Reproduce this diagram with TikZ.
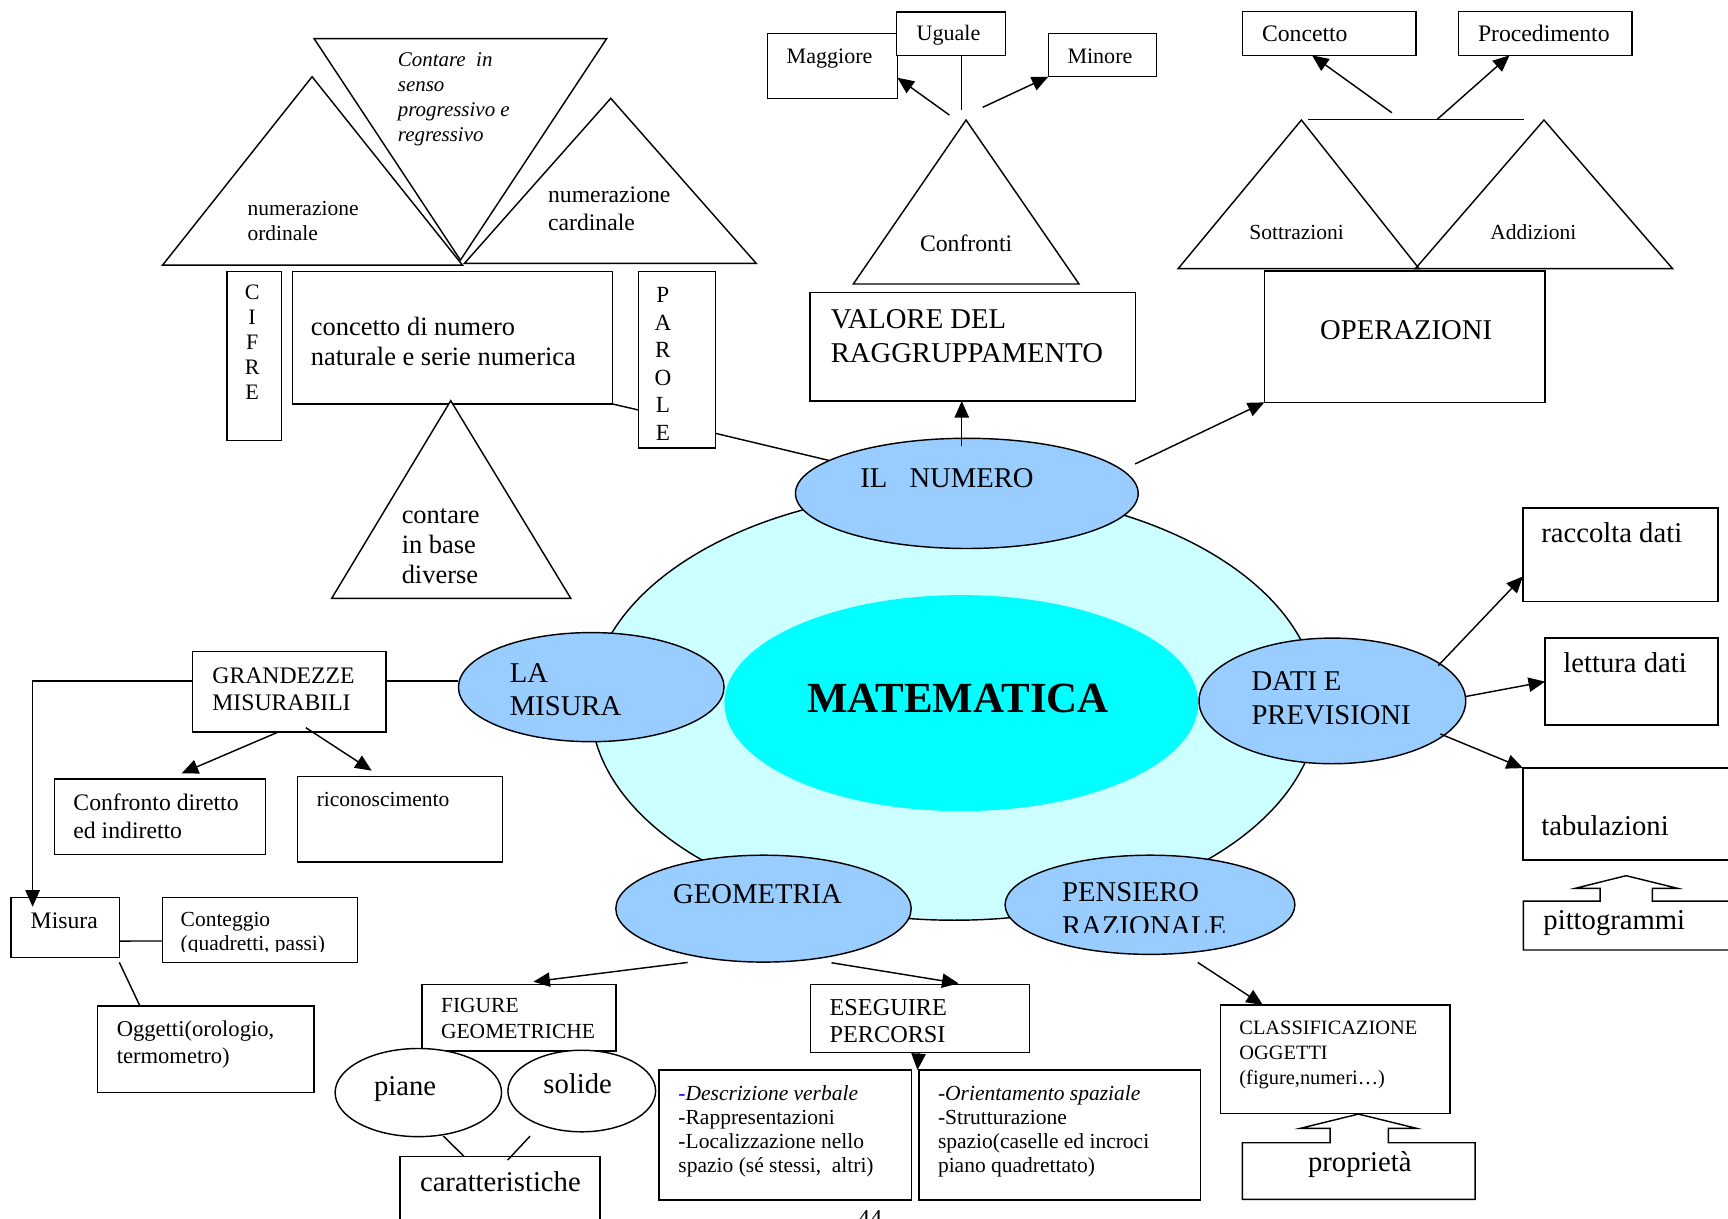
\documentclass[tikz,border=0pt]{standalone}
\usepackage{fontspec}
\setmainfont{Liberation Serif}
\usetikzlibrary{shapes.geometric,arrows.meta,fit,calc}
\definecolor{ringfill}{HTML}{CCFFFF}
\definecolor{corefill}{HTML}{00FFFF}
\definecolor{topicfill}{HTML}{99CCFF}
\newcommand\fsz[2]{\fontsize{#1}{#2}\selectfont}
% stacked lines whose baseline is that of the first line
\newcommand\rows[1]{\begin{tabular}[t]{@{}l@{}}#1\end{tabular}}
\newcommand\crows[1]{\begin{tabular}[t]{@{}c@{}}#1\end{tabular}}

\begin{document}
\begin{tikzpicture}[x=1pt, y=-1pt, line width=1.3pt,
  box/.style={draw, fill=white, inner sep=0pt, outer sep=0pt},
  topic/.style={draw, ellipse, fill=topicfill, inner sep=0pt, outer sep=0pt},
  oval/.style={draw, ellipse, fill=white, inner sep=0pt, outer sep=0pt},
  lbl/.style={inner sep=0pt, anchor=base west},
  letters/.style={inner sep=0pt, anchor=base},
  arr/.style={-{Triangle[length=15pt,width=13pt]}},
  tri/.style={draw, line join=miter}
]
\clip (0,0) rectangle (1568,1106);
\fill[white] (0,0) rectangle (1568,1106);

% ---------- central subject ----------
\node[draw, ellipse, fill=ringfill, minimum width=660pt, minimum height=390pt, inner sep=0pt] (ring) at (866,640) {};
\node[ellipse, fill=corefill, minimum width=430pt, minimum height=196pt, inner sep=0pt] (core) at (872.3,638) {};
\node[lbl, font=\fsz{39}{44}\bfseries] (title) at (731.8,646.7) {MATEMATICA};

% ---------- topic ellipses ----------
\node[topic, minimum width=311pt, minimum height=100pt] (num) at (877.3,447.7) {};
\node[topic, minimum width=241pt, minimum height=99pt] (mis) at (536.5,623.5) {};
\node[topic, minimum width=242pt, minimum height=114pt] (dati) at (1209,636) {};
\node[topic, minimum width=268pt, minimum height=97pt] (geo) at (692.8,824.5) {};
\node[topic, minimum width=263pt, minimum height=90pt] (pens) at (1043.5,821) {};

\node[lbl, font=\fsz{26}{30}] (numT) at (780.1,442.2) {IL\hspace{20pt}NUMERO};
\node[lbl, font=\fsz{26}{30}] (misT) at (462,619) {\rows{LA\\MISURA}};
\node[lbl, font=\fsz{26}{30}] (datiT) at (1135,627) {\rows{DATI E\\PREVISIONI}};
\node[lbl, font=\fsz{26}{30}] (geoT) at (610.2,819.7) {GEOMETRIA};
\begin{scope}
  \clip (900,770) rectangle (1180,846.5);
  \node[lbl, font=\fsz{26}{31}] (pensT) at (963.2,817.6) {\rows{PENSIERO\\RAZIONALE}};
\end{scope}

% ---------- IL NUMERO: number concept ----------
\draw[tri] (285,35) -- (550.5,35) -- (417.8,236) -- cycle;
\draw[tri] (283.2,69.6) -- (147.6,240.5) -- (419.6,240.5) -- cycle;
\draw[tri] (554.2,89.2) -- (421.4,239) -- (686.2,239) -- cycle;
\node[lbl, font=\fsz{19}{22.7}\itshape] (contT) at (360.4,60) {\rows{Contare\ \ in\\senso\\progressivo e\\regressivo}};
\node[lbl, font=\fsz{19.5}{22.7}] (ordT) at (224,195.1) {\rows{numerazione\\ordinale}};
\node[lbl, font=\fsz{21.5}{24.8}] (cardT) at (496.7,183.9) {\rows{numerazione\\cardinale}};

\node[box, fit={(206.1,246.5) (255.6,399.9)}] (cifre) {};
\node[letters, font=\fsz{20}{22.5}] (cifreT) at (228.8,272.2) {\crows{C\\I\\F\\R\\E}};
\node[box, fit={(265.2,246.5) (555.9,366.6)}] (conc) {};
\node[lbl, font=\fsz{24}{27.2}] (concT) at (281.4,304) {\rows{concetto di numero\\naturale e serie numerica}};
\node[box, fit={(579.2,246.5) (649.2,406.5)}] (parole) {};
\node[letters, font=\fsz{21}{25}] (paroleT) at (601.5,274.7) {\crows{P\\A\\R\\O\\L\\E}};

\draw[tri, fill=white] (409,363.6) -- (301,542.9) -- (517.9,542.9) -- cycle;
\node[lbl, font=\fsz{24}{27.2}] (baseT) at (363.9,474.9) {\rows{contare\\in base\\diverse}};

\coordinate (parIn) at (579.2,372);
\coordinate (parOut) at (649.2,393.2);
\draw (conc.south east) -- (parIn);
\draw (parOut) -- (num);

% ---------- comparisons ----------
\node[box, fit={(696.3,30.2) (814.3,89.6)}] (mag) {};
\node[box, fit={(813.7,10.9) (912.6,50.2)}] (ugu) {};
\node[box, fit={(951.3,30.2) (1049.6,69.6)}] (minr) {};
\node[lbl, font=\fsz{20}{24}] (magT) at (713.2,57.5) {Maggiore};
\node[lbl, font=\fsz{20}{24}] (uguT) at (831.2,36.9) {Uguale};
\node[lbl, font=\fsz{20}{24}] (minT) at (968,57.5) {Minore};
\draw[tri] (876.6,108.9) -- (774.3,257.7) -- (979.1,257.7) -- cycle;
\node[lbl, font=\fsz{21.5}{25}] (confT) at (834.2,228.4) {Confronti};
\coordinate (cfA) at (861.5,104.4);
\coordinate (cfB) at (891.7,97.4);
\coordinate (cfC) at (872.7,99.8);
\draw (cfC) -- (cfC |- ugu.south);
\draw[arr] (cfA) -- ($(mag.east)+(0,10.6)$);
\draw[arr] (cfB) -- (minr.south west);

\node[box, fit={(735,265.6) (1030.6,363.9)}] (val) {};
\node[lbl, font=\fsz{26}{31.2}] (valT) at (753.2,297.9) {\rows{VALORE DEL\\RAGGRUPPAMENTO}};
\coordinate (numUp) at (872.7,405);
\draw[arr] (numUp) -- (numUp |- val.south);

% ---------- operations ----------
\node[box, fit={(1127.6,10.6) (1284.7,50.2)}] (con) {};
\node[box, fit={(1323.4,10.6) (1480.9,50.2)}] (pro) {};
\node[lbl, font=\fsz{21.5}{25}] (conT) at (1144.5,38) {Concetto};
\node[lbl, font=\fsz{21.5}{25}] (proT) at (1340.5,38) {Procedimento};
\coordinate (barL) at (1186.8,108.3);
\coordinate (barR) at (1383,108.3);
\coordinate (opA) at (1263,102.3);
\coordinate (opB) at (1304.1,108.3);
\draw (barL) -- (barR);
\draw[arr] (opA) -- ($(con.south)+(-15.6,0)$);
\draw[arr] (opB) -- ($(pro.south)+(-32.4,0)$);
\draw[tri] (1180.9,108.9) -- (1069,243.8) -- (1287.7,243.8) -- cycle;
\draw[tri] (1401,108.9) -- (1284.3,243.8) -- (1517.7,243.8) -- cycle;
\node[lbl, font=\fsz{19.5}{23}] (sotT) at (1133.1,217.2) {Sottrazioni};
\node[lbl, font=\fsz{19.5}{23}] (addT) at (1351.7,217.2) {Addizioni};
\node[box, fit={(1147.3,245.9) (1402,365.1)}] (ops) {};
\node[lbl, font=\fsz{26}{30}] (opsT) at (1197.3,308.5) {OPERAZIONI};
\coordinate (numR) at (1030,421);
\draw[arr] (numR) -- (ops.south west);

% ---------- measure ----------
\node[box, fit={(174.8,591.4) (350.3,664.2)}] (gm) {};
\node[lbl, font=\fsz{21.5}{24.3}] (gmT) at (192.1,620) {\rows{GRANDEZZE\\MISURABILI}};
\node[box, fit={(49.3,706.9) (241.1,775.2)}] (cd) {};
\node[lbl, font=\fsz{21.5}{25.7}] (cdT) at (66,735) {\rows{Confronto diretto\\ed indiretto}};
\node[box, fit={(269.8,704.8) (456.2,782)}] (ric) {};
\node[lbl, font=\fsz{19.5}{23}] (ricT) at (286.8,732) {riconoscimento};
\node[box, fit={(10,814.3) (108.3,868.7)}] (ms) {};
\node[lbl, font=\fsz{21.5}{25}] (msT) at (27.2,842.4) {Misura};
\node[box, fit={(147.3,814.3) (324.3,873.6)}] (cg) {};
\begin{scope}
  \clip (150,800) rectangle (322,863.5);
  \node[lbl, font=\fsz{19.5}{22.5}] (cgT) at (163.3,840.3) {\rows{Conteggio\\(quadretti, passi)}};
\end{scope}
\node[box, fit={(88.3,912.9) (285,991.2)}] (og) {};
\node[lbl, font=\fsz{20.5}{24.2}] (ogT) at (105.3,940.7) {\rows{Oggetti(orologio,\\termometro)}};

\coordinate (gmLine) at (0,618);
\draw (gm.east |- gmLine) -- (mis.west |- gmLine);
\draw[arr] (gm.west |- gmLine) -| ($(ms.north west)+(19.6,8.5)$);
\draw[arr] ($(gm.south)+(-10,0)$) -- ($(cd.north)+(19.7,-5.2)$);
\draw[arr] ($(gm.south)+(15,-3.9)$) -- ($(ric.north)+(-25.7,-5.5)$);
\draw ($(ms.east)+(0,12.4)$) -- ($(cg.west)+(0,9.9)$);
\draw ($(ms.south east)+(0,4.6)$) -- ($(og.north west)+(38.7,0)$);

% ---------- geometry ----------
\node[box, fit={(383,893.2) (559,953.7)}] (fg) {};
\node[lbl, font=\fsz{19.5}{23.3}] (fgT) at (399.6,918.9) {\rows{FIGURE\\GEOMETRICHE}};
\node[oval, minimum width=151pt, minimum height=80pt] (pia) at (379.6,991.4) {};
\node[oval, minimum width=134pt, minimum height=74pt] (sol) at (527.9,990) {};
\node[lbl, font=\fsz{26}{30}] (piaT) at (338.8,993.6) {piane};
\node[lbl, font=\fsz{26}{30}] (solT) at (492.4,992.1) {solide};
\node[box, fit={(363,1049.6) (544.5,1115)}] (car) {};
\node[lbl, font=\fsz{26}{30}] (carT) at (380.5,1081.4) {caratteristiche};
\coordinate (piaOut) at (402.3,1030.9);
\coordinate (solOut) at (481,1030.9);
\draw (piaOut) -- ($(car.north west)+(58.4,0)$);
\draw (solOut) -- ($(car.north west)+(97.7,3)$);

\node[box, fit={(735.6,893.2) (934,954.9)}] (es) {};
\node[lbl, font=\fsz{22}{24.2}] (esT) at (752.2,921.6) {\rows{ESEGUIRE\\PERCORSI}};
\node[box, fit={(597.9,971) (827.1,1088.9)}] (de) {};
\node[box, fit={(833.7,971) (1089.1,1088.9)}] (ori) {};
\node[lbl, font=\fsz{19.5}{22}] (deT) at (615,998.2)
  {\rows{\textcolor{blue}{-}\textit{Descrizione verbale}\\-Rappresentazioni\\-Localizzazione nello\\spazio (sé stessi,\ \ altri)}};
\node[lbl, font=\fsz{19.5}{22}] (oriT) at (850.5,998.2)
  {\rows{\textit{-Orientamento spaziale}\\-Strutturazione\\spazio(caselle ed incroci\\piano quadrettato)}};

\coordinate (geoL) at (624,873.3);
\coordinate (geoR) at (754.5,873.6);
\draw[arr] (geoL) -- ($(fg.north)+(13,-2.4)$);
\draw[arr] (geoR) -- ($(es.north)+(35,-0.9)$);
\draw[arr] ($(es.south)+(-1.2,0)$) -- ($(de.north east)+(5.4,0)$);

% ---------- rational thinking ----------
\node[box, fit={(1107.7,912) (1315.8,1010.3)}] (cl) {};
\node[lbl, font=\fsz{18.5}{23}] (clT) at (1124,938.5) {\rows{CLASSIFICAZIONE\\OGGETTI\\(figure,numeri\ldots)}};
\coordinate (pensOut) at (1086.8,873.3);
\draw[arr] (pensOut) -- ($(cl.north west)+(38.3,0)$);
\draw[tri, fill=white] (1127.3,1036.9) -- (1206.9,1036.9) -- (1206.9,1023.9) -- (1179.7,1023.9)
  -- (1232.6,1010.9) -- (1285.6,1023.9) -- (1259.8,1023.9) -- (1259.8,1036.9)
  -- (1338.5,1036.9) -- (1338.5,1088.3) -- (1127.3,1088.3) -- cycle;
\node[lbl, font=\fsz{26}{30}] (propT) at (1186.3,1063.2) {proprietà};

% ---------- data and forecasts ----------
\node[box, fit={(1382,461) (1559,546)}] (rd) {};
\node[lbl, font=\fsz{26}{30}] (rdT) at (1398,492.5) {raccolta dati};
\node[box, fit={(1402,579) (1559,658)}] (ld) {};
\node[lbl, font=\fsz{26}{30}] (ldT) at (1418,610.5) {lettura dati};
\node[box, fit={(1382,697) (1585,780.4)}] (tb) {};
\node[lbl, font=\fsz{26}{30}] (tbT) at (1398,758.5) {tabulazioni};
\draw[tri, fill=white] (1382.3,817.6) -- (1451.9,817.6) -- (1451.9,806.1) -- (1429.2,806.1)
  -- (1475.5,794.6) -- (1522.4,806.1) -- (1499.4,806.1) -- (1499.4,817.6)
  -- (1585,817.6) -- (1585,862) -- (1382.3,862) -- cycle;
\node[lbl, font=\fsz{26}{30}] (pitT) at (1399.9,843) {pittogrammi};

\coordinate (datiA) at (1305,604);
\coordinate (datiC) at (1307,666);
\draw[arr] (datiA) -- ($(rd.west)+(0,19.5)$);
\draw[arr] ($(dati.east)+(0,-4)$) -- (ld.west);
\draw[arr] (datiC) -- (tb.north west);

% ---------- page number ----------
\node[inner sep=0pt, anchor=north, font=\fsz{22}{26}] (pg) at (789.5,1097.5) {44};
\end{tikzpicture}
\end{document}
